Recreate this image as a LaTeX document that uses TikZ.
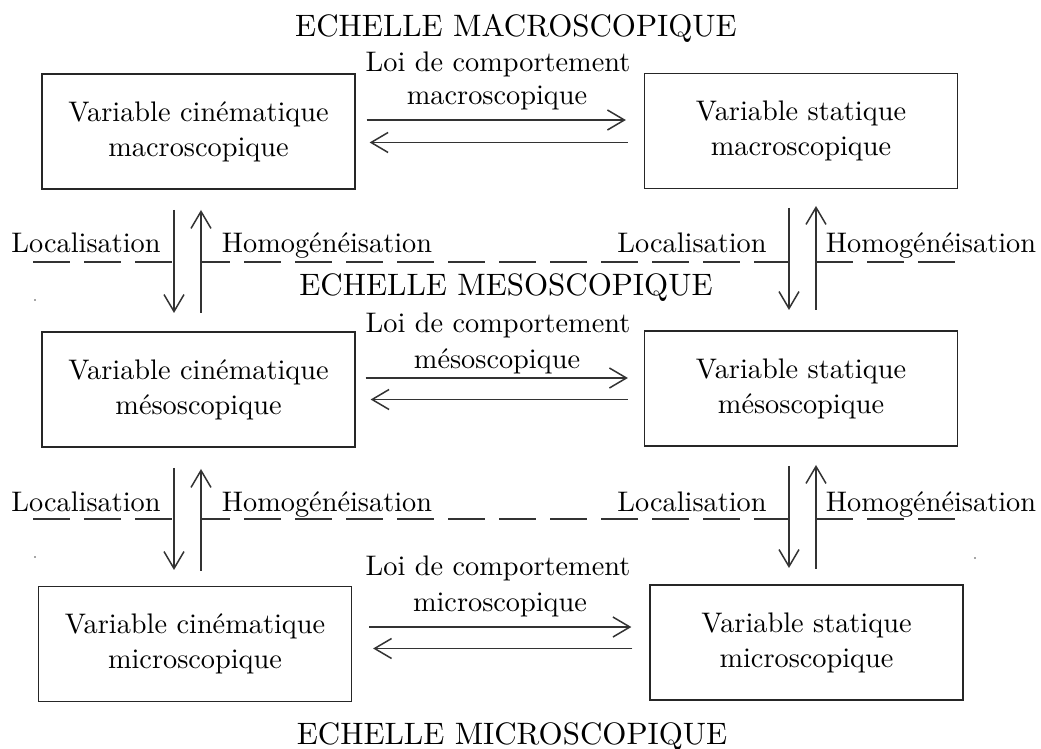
\documentclass[tikz,border=0pt]{standalone}
\usetikzlibrary{arrows.meta}
\begin{document}
\begin{tikzpicture}[x=0.3534pt,y=-0.3534pt,
  txt/.style={font=\fontsize{10}{12.4}\selectfont, inner sep=0pt},
  ttl/.style={font=\fontsize{10.95}{13}\selectfont, inner sep=0pt},
  boxn/.style={draw=black!85, line width=0.46pt, minimum width=110.6pt, minimum height=40.64pt,
     align=center, font=\fontsize{10}{12.4}\selectfont, inner sep=0pt},
  arr/.style={draw=black!80, line width=0.53pt, -{Straight Barb[length=6pt,width=7.07pt,line width=0.53pt]}},
  dsh/.style={draw=black!80, line width=0.5pt, dash pattern=on 13.08pt off 4.95pt}
]
\useasboundingbox (0,0) rectangle (1041,749);
\fill[white] (0,0) rectangle (1041,749);

% titles
\node[ttl, anchor=base] (t1) at (516,37) {ECHELLE MACROSCOPIQUE};
\node[ttl, anchor=base] (t2) at (506,296) {ECHELLE MESOSCOPIQUE};
\node[ttl, anchor=base] (t3) at (512,745) {ECHELLE MICROSCOPIQUE};

% boxes
\node[boxn] (b1) at (198.5,131.5) {Variable cinématique\\macroscopique};
\node[boxn] (b2) at (801,131) {Variable statique\\macroscopique};
\node[boxn] (b3) at (198.5,389.5) {Variable cinématique\\mésoscopique};
\node[boxn] (b4) at (801,388.5) {Variable statique\\mésoscopique};
\node[boxn] (b5) at (195,644) {Variable cinématique\\microscopique};
\node[boxn] (b6) at (806.5,642.5) {Variable statique\\microscopique};

% laws
\node[txt, anchor=base] (l1a) at (498,72) {Loi de comportement};
\node[txt, anchor=base] (l1b) at (497,105) {macroscopique};
\node[txt, anchor=base] (l2a) at (498,333) {Loi de comportement};
\node[txt, anchor=base] (l2b) at (497,369) {mésoscopique};
\node[txt, anchor=base] (l3a) at (498,576) {Loi de comportement};
\node[txt, anchor=base] (l3b) at (500,612) {microscopique};

% horizontal arrows
\draw[arr, shorten <=3.89pt, shorten >=6.36pt] ([yshift=4.06pt]b1.east) -- ([yshift=4.06pt]b1.east -| b2.west);
\draw[arr, shorten <=5.65pt, shorten >=4.95pt] ([yshift=-4.06pt]b2.west) -- ([yshift=-4.06pt]b2.west -| b1.east);
\draw[arr, shorten <=3.53pt, shorten >=5.65pt] ([yshift=4.06pt]b3.east) -- ([yshift=4.06pt]b3.east -| b4.west);
\draw[arr, shorten <=5.65pt, shorten >=5.3pt] ([yshift=-3.89pt]b4.west) -- ([yshift=-3.89pt]b4.west -| b3.east);
\draw[arr, shorten <=6pt, shorten >=6.36pt] ([yshift=6pt]b5.east) -- ([yshift=6pt]b5.east -| b6.west);
\draw[arr, shorten <=6pt, shorten >=7.42pt] ([yshift=-2.12pt]b6.west) -- ([yshift=-2.12pt]b6.west -| b5.east);

% side labels
\node[txt, anchor=base] (loc1) at (86,253) {Localisation};
\node[txt, anchor=base] (hom1) at (327,253) {Homogénéisation};
\node[txt, anchor=base] (loc2) at (692,253) {Localisation};
\node[txt, anchor=base] (hom2) at (931,253) {Homogénéisation};
\node[txt, anchor=base] (loc3) at (86,512) {Localisation};
\node[txt, anchor=base] (hom3) at (327,512) {Homogénéisation};
\node[txt, anchor=base] (loc4) at (692,512) {Localisation};
\node[txt, anchor=base] (hom4) at (931,512) {Homogénéisation};

% vertical arrow end points
\coordinate (d1a) at (174,210); \coordinate (d1b) at (174,313);
\coordinate (u1a) at (201,313); \coordinate (u1b) at (201,210);
\coordinate (d2a) at (789,208); \coordinate (d2b) at (789,310);
\coordinate (u2a) at (816,310); \coordinate (u2b) at (816,206);
\coordinate (d3a) at (174,468); \coordinate (d3b) at (174,570);
\coordinate (u3a) at (201,571); \coordinate (u3b) at (201,469);
\coordinate (d4a) at (789,466); \coordinate (d4b) at (789,568);
\coordinate (u4a) at (816,569); \coordinate (u4b) at (816,465);

\draw[arr] (d1a) -- (d1b);
\draw[arr] (u1a) -- (u1b);
\draw[arr] (d2a) -- (d2b);
\draw[arr] (u2a) -- (u2b);
\draw[arr] (d3a) -- (d3b);
\draw[arr] (u3a) -- (u3b);
\draw[arr] (d4a) -- (d4b);
\draw[arr] (u4a) -- (u4b);

% dashed separators
\coordinate (s1a) at (33,262); \coordinate (s1e) at (962,262);
\coordinate (s2a) at (33,519); \coordinate (s2e) at (962,519);
\draw[dsh] (s1a) -- (s1a -| d1a);
\draw[dsh, dash phase=2.83pt] (s1a -| u1a) -- (s1a -| d2a);
\draw[dsh] (s1a -| u2a) -- (s1e);
\draw[dsh] (s2a) -- (s2a -| d3a);
\draw[dsh, dash phase=2.83pt] (s2a -| u3a) -- (s2a -| d4a);
\draw[dsh] (s2a -| u4a) -- (s2e);

% stray dots
\fill[black!70] (35,300) circle (0.32pt);
\fill[black!70] (35,557) circle (0.32pt);
\fill[black!70] (975,558) circle (0.32pt);
\end{tikzpicture}
\end{document}
